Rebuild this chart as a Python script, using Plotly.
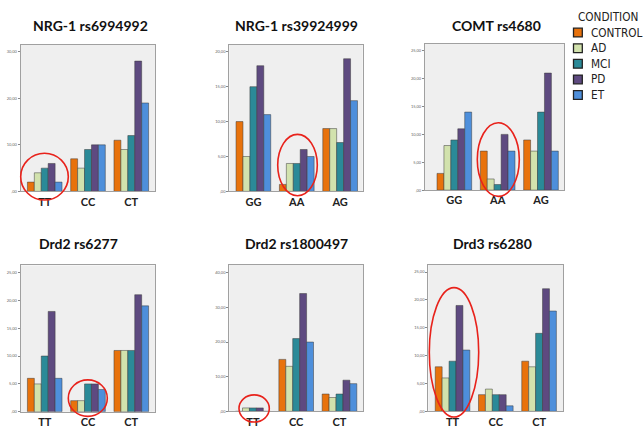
import plotly.graph_objects as go

# Genotype frequency (%) by clinical condition for six polymorphisms
conditions = ["CONTROL", "AD", "MCI", "PD", "ET"]
colors = ["#e8720c", "#d2e2ad", "#2b8a98", "#5e4a80", "#4e8fdb"]

titles = ["NRG-1 rs6994992", "NRG-1 rs39924999", "COMT rs4680",
          "Drd2 rs6277", "Drd2 rs1800497", "Drd3 rs6280"]

genotypes = [
    ["TT", "CC", "CT"],
    ["GG", "AA", "AG"],
    ["GG", "AA", "AG"],
    ["TT", "CC", "CT"],
    ["TT", "CC", "CT"],
    ["TT", "CC", "CT"],
]

# values[panel][condition] -> one value per genotype
nrg1_6994992 = [[2, 7, 11], [4, 5, 9], [5, 9, 12], [6, 10, 28], [2, 10, 19]]
nrg1_39924999 = [[10, 1, 9], [5, 4, 9], [15, 4, 7], [18, 6, 19], [11, 5, 13]]
comt_4680 = [[3, 7, 9], [8, 2, 7], [9, 1, 14], [11, 10, 21], [14, 7, 7]]
drd2_6277 = [[6, 2, 11], [5, 2, 11], [10, 5, 11], [18, 5, 21], [6, 4, 19]]
drd2_1800497 = [[0, 15, 5], [1, 13, 4], [1, 21, 5], [1, 34, 9], [0, 20, 8]]
drd3_6280 = [[8, 3, 9], [6, 4, 8], [9, 3, 14], [19, 3, 22], [11, 1, 18]]
values = [nrg1_6994992, nrg1_39924999, comt_4680, drd2_6277, drd2_1800497, drd3_6280]

tick_values = [
    [0, 10, 20, 30],
    [0, 5, 10, 15, 20],
    [0, 5, 10, 15, 20, 25],
    [0, 5, 10, 15, 20, 25],
    [0, 10, 20, 30, 40],
    [0, 5, 10, 15, 20, 25],
]
y_max = [31.5, 21.0, 26.2, 26.25, 42.3, 26.3]

W, H = 643, 430

# plot-area boxes in pixels: (left, right, top, bottom)
boxes = [
    (20.7, 155.3, 45.0, 192.3),
    (229.3, 362.7, 45.0, 192.3),
    (425.0, 564.3, 44.3, 191.0),
    (20.7, 155.3, 266.7, 413.7),
    (229.3, 363.3, 266.0, 413.3),
    (428.3, 563.3, 266.0, 413.3),
]
x_ranges = [
    [-0.555, 2.555], [-0.555, 2.52], [-0.677, 2.538],
    [-0.555, 2.555], [-0.545, 2.55], [-0.56, 2.56],
]
title_pos = [(90, 25.7), (296.7, 25.7), (496.7, 25.7),
             (78.7, 244.3), (296.7, 244.3), (492.3, 244.3)]

LEGEND_FONT = "Liberation Sans Narrow, DejaVu Sans Condensed, Arial Narrow, sans-serif"


def px(x):
    return x / W


def py(y):
    return 1 - y / H


fig = go.Figure()
layout = dict(
    width=W, height=H,
    margin=dict(l=0, r=0, t=0, b=0),
    paper_bgcolor="white",
    plot_bgcolor="#efefef",
    barmode="group",
    bargap=0.2,
    bargroupgap=0,
    showlegend=False,
    font=dict(family="Lato, Open Sans, sans-serif", color="#111"),
)

annotations = []
shapes = []

for p in range(6):
    sfx = "" if p == 0 else str(p + 1)
    xa, ya = "x" + sfx, "y" + sfx
    for c, cond in enumerate(conditions):
        fig.add_trace(go.Bar(
            x=genotypes[p], y=values[p][c], name=cond,
            marker=dict(color=colors[c], line=dict(color="#3a3a3a", width=0.5)),
            xaxis=xa, yaxis=ya, showlegend=False,
        ))
    l, r, t, b = boxes[p]
    layout["xaxis" + sfx] = dict(
        domain=[px(l), px(r)], anchor=ya, range=x_ranges[p],
        type="category", showgrid=False, zeroline=False,
        showline=True, linecolor="#a0a0a0", linewidth=1, mirror=True,
        ticks="", tickfont=dict(size=11, weight="bold", color="#222"),
    )
    layout["yaxis" + sfx] = dict(
        domain=[py(b), py(t)], anchor=xa, range=[0, y_max[p]],
        showgrid=False, zeroline=False,
        showline=True, linecolor="#a0a0a0", linewidth=1, mirror=True,
        ticks="outside", ticklen=2, tickcolor="#888",
        tickvals=tick_values[p],
        ticktext=[(f"{v},00" if v else ",00") for v in tick_values[p]],
        tickfont=dict(size=4, color="#666"),
    )
    tx, ty = title_pos[p]
    annotations.append(dict(
        x=px(tx), y=py(ty), xref="paper", yref="paper",
        text=titles[p], showarrow=False, xanchor="center", yanchor="middle",
        font=dict(size=14, weight="bold", color="#111"),
    ))

# red ellipses highlighting genotype groups (pixel boxes)
ellipses = [
    (20.7, 68.3, 154.0, 201.0),
    (277.7, 317.3, 135.0, 196.7),
    (477.3, 519.3, 123.3, 197.3),
    (68.3, 107.3, 381.7, 418.3),
    (239.0, 269.3, 396.7, 424.0),
    (429.3, 478.7, 289.0, 419.0),
]
for x0, x1, y0, y1 in ellipses:
    shapes.append(dict(
        type="circle", xref="paper", yref="paper",
        x0=px(x0), x1=px(x1), y0=py(y1), y1=py(y0),
        line=dict(color="#e8221b", width=1.6), layer="above",
    ))

# legend drawn by hand
annotations.append(dict(
    x=px(575.5), y=py(16.7), xref="paper", yref="paper", text="CONDITION",
    showarrow=False, xanchor="left", yanchor="middle",
    font=dict(size=11.7, color="#222", family=LEGEND_FONT),
))
row_y = [32.7, 48.4, 64.1, 79.8, 95.5]
for c, cond in enumerate(conditions):
    yc = row_y[c]
    shapes.append(dict(
        type="rect", xref="paper", yref="paper",
        x0=px(573.5), x1=px(582.3), y0=py(yc + 4.4), y1=py(yc - 4.4),
        fillcolor=colors[c], line=dict(color="#222", width=1.3),
    ))
    annotations.append(dict(
        x=px(588.5), y=py(yc), xref="paper", yref="paper", text=cond,
        showarrow=False, xanchor="left", yanchor="middle",
        font=dict(size=11.7, color="#222", family=LEGEND_FONT),
    ))

layout["annotations"] = annotations
layout["shapes"] = shapes
fig.update_layout(**layout)
fig.write_html("out.html")
